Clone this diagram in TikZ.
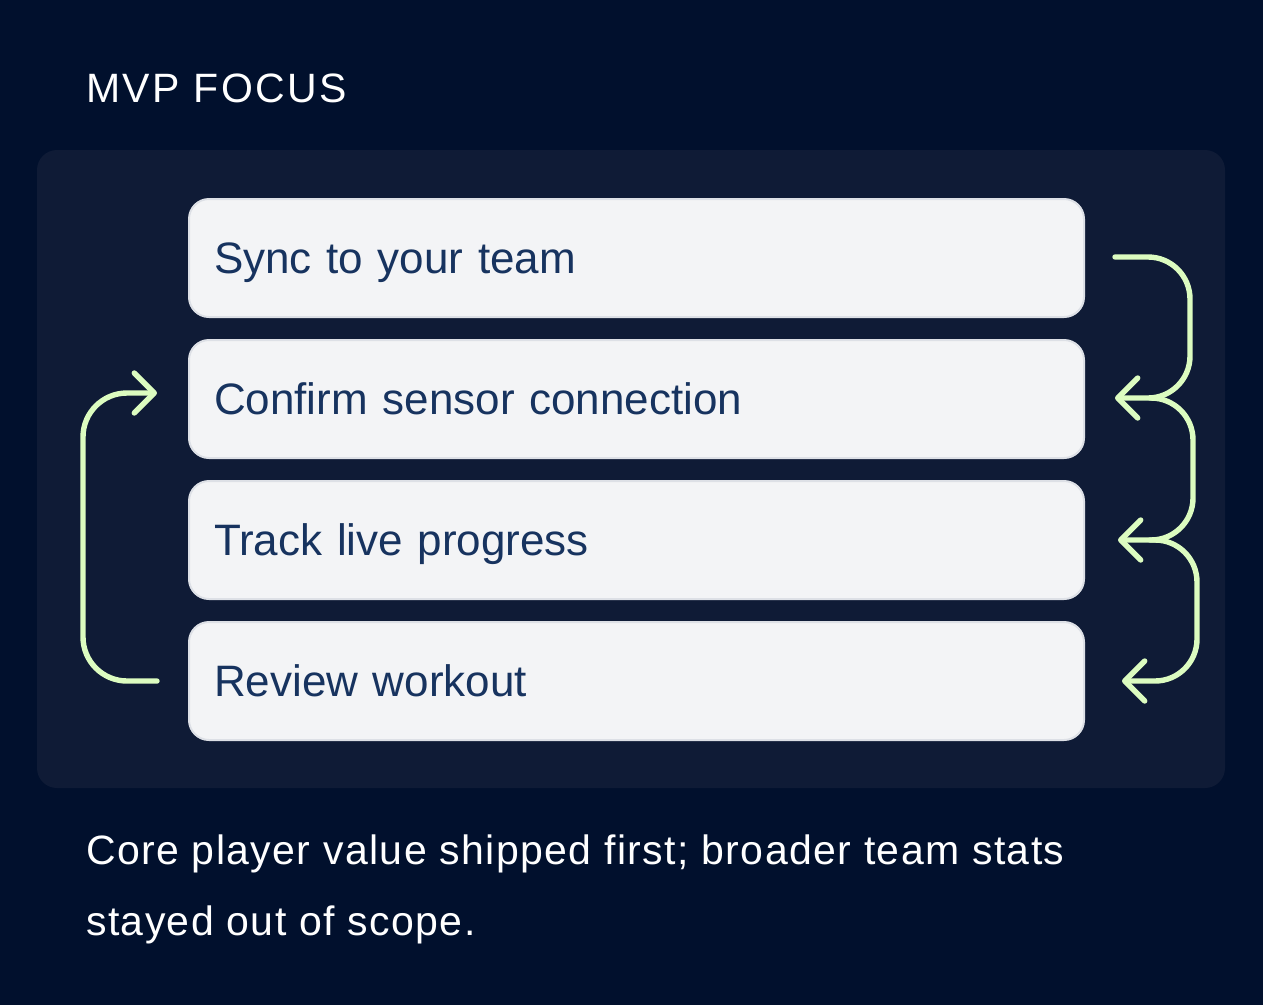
\documentclass[tikz,border=0pt]{standalone}
\usepackage{fontspec}
\setmainfont{Liberation Sans}
\newfontfamily\titlefont[LetterSpace=6]{Liberation Sans}
\newfontfamily\capfont[LetterSpace=3.4]{Liberation Sans}
\usetikzlibrary{arrows.meta}
\definecolor{bgc}{HTML}{01102D}
\definecolor{panelc}{HTML}{0F1B36}
\definecolor{boxc}{HTML}{F3F4F6}
\definecolor{boxline}{HTML}{DDE0E6}
\definecolor{textc}{HTML}{17335F}
\definecolor{arrowc}{HTML}{DCFCC0}
\tikzset{
  stepbox/.style={draw=boxline, line width=2pt, fill=boxc, rounded corners=20pt,
    minimum width=895pt, minimum height=118pt, text width=845pt, align=left,
    inner xsep=25pt, inner ysep=0pt, text height=31pt, text depth=0pt,
    anchor=west, font=\fontsize{44}{50}\selectfont, text=textc},
  flow/.style={draw=arrowc, line width=5.4pt, line cap=round, line join=round,
    -{Straight Barb[length=20pt,width=40pt,line cap=round,line join=round]}},
  captext/.style={anchor=base west, inner sep=0pt, text=white, font=\capfont\fontsize{41}{48}\selectfont}
}
\begin{document}
\begin{tikzpicture}[x=1pt,y=-1pt]
\useasboundingbox (0,0) rectangle (1263,1005);
\fill[bgc] (0,0) rectangle (1263,1005);
\fill[panelc, rounded corners=20pt] (37,150) rectangle (1225,788);
\node[anchor=base west, inner sep=0pt, text=white, font=\titlefont\fontsize{41}{48}\selectfont] (title) at (86,102) {MVP FOCUS};
\node[stepbox] (b1) at (188,258) {Sync to your team};
\node[stepbox] (b2) at (188,399) {Confirm sensor connection};
\node[stepbox] (b3) at (188,540) {Track live progress};
\node[stepbox] (b4) at (188,681) {Review workout};
\coordinate (r1) at (1115,257);
\coordinate (r2) at (1115,398);
\coordinate (r3) at (1118,540);
\coordinate (r4) at (1122,681);
\coordinate (l1) at (157,681);
\coordinate (l2) at (157,393);
\draw[flow, rounded corners=42pt] (r1) -- (1190,257) -- (1190,398) -- (r2);
\draw[flow, rounded corners=42pt] (1150,398) -- (1193,398) -- (1193,540) -- (r3);
\draw[flow, rounded corners=42pt] (1150,540) -- (1197,540) -- (1197,681) -- (r4);
\draw[flow, rounded corners=44pt] (l1) -- (83,681) -- (83,393) -- (l2);
\node[captext] (cap1) at (86,864) {Core player value shipped first; broader team stats};
\node[captext] (cap2) at (86,935) {stayed out of scope.};
\end{tikzpicture}
\end{document}
